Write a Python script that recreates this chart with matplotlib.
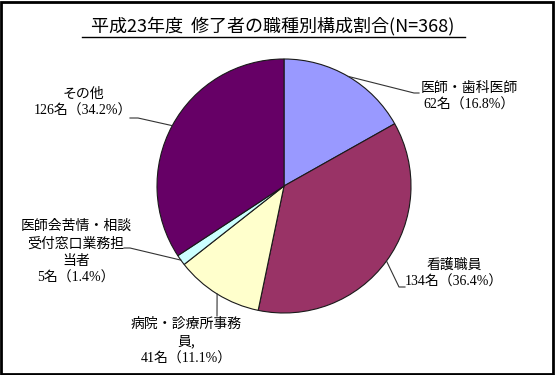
import numpy as np
import matplotlib.pyplot as plt
from matplotlib.patches import Rectangle

plt.rcParams['font.family'] = ['Noto Sans CJK JP', 'DejaVu Sans']

title = '平成23年度  修了者の職種別構成割合(N=368)'
names = [['医師・歯科医師'], ['看護職員'], ['病院・診療所事務', '員,'],
         ['医師会苦情・相談', '受付窓口業務担', '当者'], ['その他']]
counts = [62, 134, 41, 5, 126]
colors = ['#9999FF', '#993366', '#FFFFCC', '#CCFFFF', '#660066']

W, H = 555, 375
fig = plt.figure(figsize=(W / 100, H / 100), dpi=100)
ax = fig.add_axes([0, 0, 1, 1])

cx, cy, r = 284, H - 186, 127
ax.pie(counts, colors=colors, startangle=90, counterclock=False,
       center=(cx, cy), radius=r, frame=True,
       wedgeprops=dict(edgecolor='#1a1a1a', linewidth=0.8))
ax.set_xlim(0, W)
ax.set_ylim(0, H)
ax.set_aspect('equal')
ax.axis('off')

total = sum(counts)
# label centre x, first line y (pixels from top), leader line bends
label_x = [469, 454, 186, 76, 83]
label_y = [88, 265, 324, 226, 94]
line_end = [[(414, 93), (419, 93)], [(399, 287), (405, 287)],
            [(217, 316)], [(130, 248), (124, 248)], [(138, 118), (130, 118)]]
step = 17.5

cum = 0
for i, c in enumerate(counts):
    mid = (cum + c / 2) / total
    cum += c
    ang = np.deg2rad(90 - 360 * mid)
    px, py = cx + r * np.cos(ang), cy + r * np.sin(ang)
    pts = [(px, py)] + [(x, H - y) for x, y in line_end[i]]
    xs, ys = zip(*pts)
    ax.plot(xs, ys, color='#333333', lw=0.8)
    y = label_y[i]
    for line in names[i]:
        ax.text(label_x[i], H - y, line, ha='center', va='center', fontsize=10)
        y += step
    ax.text(label_x[i], H - y, f'{c}名（{c / total * 100:.1f}%）', ha='center', va='center',
            fontsize=10, family=['Liberation Serif', 'Noto Sans CJK JP'])

ax.text(273, H - 26, title, ha='center', va='center', fontsize=13)
ax.plot([82, 465], [H - 37, H - 37], color='black', lw=1)

fig.patches.append(Rectangle((0.002, 0.003), 0.994, 0.992, transform=fig.transFigure,
                             fill=False, edgecolor='black', lw=2))

fig.savefig('out.png', dpi=100)
